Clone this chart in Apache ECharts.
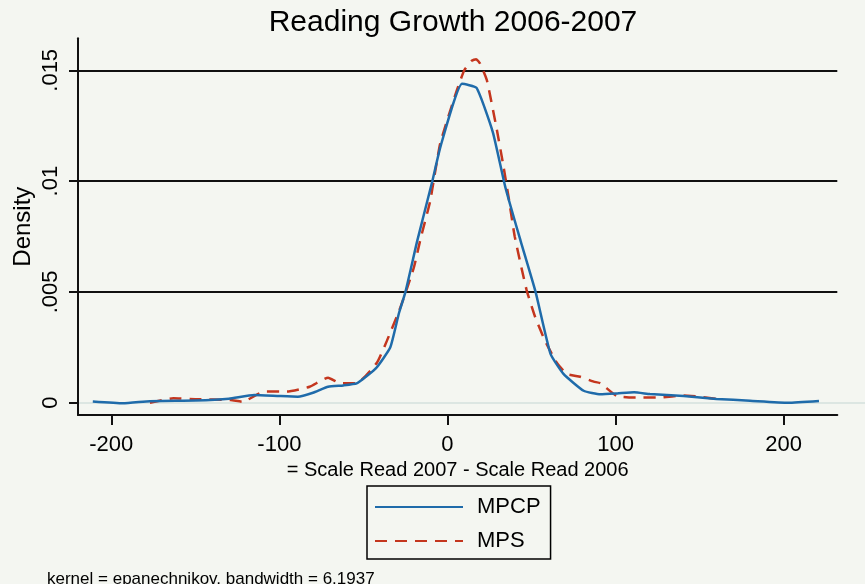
<!DOCTYPE html>
<html>
<head>
<meta charset="utf-8">
<script src="https://cdn.jsdelivr.net/npm/echarts@6/dist/echarts.min.js"></script>
<style>html,body{margin:0;padding:0;background:#F4F6F1;}#c{width:865px;height:584px;}</style>
</head>
<body>
<div id="c"></div>
<script>
// ---- data ----
const titleText = 'Reading Growth 2006-2007';
const xAxisTitle = '= Scale Read 2007 - Scale Read 2006';
const yAxisTitle = 'Density';
const noteText = 'kernel = epanechnikov, bandwidth = 6.1937';
const seriesNames = ['MPCP', 'MPS'];
const xTicks = [-200, -100, 0, 100, 200];
const yTicks = [0, 0.005, 0.01, 0.015];
const yTickLabels = ['0', '.005', '.01', '.015'];

const mpcpX = [-211, -193, -177, -150, -130, -115, -100, -89, -80, -71, -62, -54, -48, -42, -34, -29, -25, -18, -12, -9, -4, 8.7, 17.3, 27, 34.5, 43.5, 52.4, 61.3, 69, 81, 91, 101, 111, 120.5, 140.5, 160, 180, 202.7, 221];
const mpcpY = [0.00005, -0.00003, 0.00007, 0.0001, 0.00018, 0.00035, 0.0003, 0.00027, 0.00045, 0.00072, 0.00078, 0.00087, 0.0012, 0.0016, 0.0025, 0.004, 0.005, 0.0073, 0.0091, 0.01, 0.0116, 0.01439, 0.0142, 0.0122, 0.0097, 0.0073, 0.005, 0.0022, 0.0013, 0.00054, 0.00038, 0.00042, 0.00047, 0.00039, 0.0003, 0.00017, 0.00009, 0.0, 0.00008];

const mpsX = [-177, -163, -150, -129, -122, -109, -95.5, -82, -71, -64, -54, -42, -36, -28, -20, -16, -10.3, -4.3, 5.6, 10, 14.5, 17, 19.4, 23.4, 29.4, 33, 36.5, 40, 47, 52, 58, 65, 71, 79, 87, 91, 100.7, 110.6, 126.6, 140.5, 150, 162];
const mpsY = [0.0, 0.0002, 0.00016, 0.00012, 0.00004, 0.0005, 0.0005, 0.00072, 0.00113, 0.00088, 0.00088, 0.0018, 0.0028, 0.0043, 0.0061, 0.0074, 0.0091, 0.0117, 0.0141, 0.015, 0.01543, 0.0155, 0.0153, 0.01456, 0.0123, 0.0108, 0.0092, 0.0075, 0.0051, 0.0039, 0.0028, 0.0018, 0.0013, 0.00117, 0.00095, 0.00088, 0.0003, 0.00023, 0.00024, 0.00032, 0.00027, 0.00015];

// ---- chart ----
const FONT = 'Liberation Sans, Arial, sans-serif';
const chart = echarts.init(document.getElementById('c'), null, {renderer: 'canvas'});
const pairs = (xs, ys) => xs.map((x, i) => [x, ys[i]]);

chart.setOption({
  backgroundColor: '#F4F6F1',
  animation: false,
  textStyle: {fontFamily: FONT},
  title: [
    {text: titleText, left: 453, textAlign: 'center', top: 8, padding: 0,
     textStyle: {fontSize: 30, fontWeight: 'normal', color: '#000', fontFamily: FONT}},
    {text: noteText, left: 47, top: 571, padding: 0,
     textStyle: {fontSize: 17, fontWeight: 'normal', color: '#000', fontFamily: FONT}}
  ],
  legend: {
    orient: 'vertical', left: 367, top: 486,
    data: seriesNames,
    itemWidth: 88, itemHeight: 14, itemGap: 12,
    padding: [10, 10, 7, 7],
    borderColor: '#000', borderWidth: 1.5, borderRadius: 0,
    backgroundColor: '#F4F6F1',
    itemStyle: {opacity: 0},
    textStyle: {fontSize: 22, color: '#000', fontFamily: FONT, padding: [0, 0, 0, 9], lineHeight: 22}
  },
  grid: [
    {left: 78, right: 27.7, top: 38.3, bottom: 169},
    {left: 78, right: 27.7, top: 70.3, bottom: 181.3},
    {left: 78, right: 0, top: 302.7, bottom: 181.3}
  ],
  xAxis: [
    {gridIndex: 0, type: 'value', min: -219.8, max: 231.9,
     axisLine: {show: true, onZero: false, lineStyle: {color: '#111', width: 2}},
     axisTick: {show: true, customValues: xTicks, length: 10, lineStyle: {color: '#111', width: 2}},
     axisLabel: {show: true, customValues: xTicks, fontSize: 22, color: '#000', margin: 19, fontFamily: FONT},
     splitLine: {show: false},
     name: xAxisTitle, nameLocation: 'middle', nameGap: 45,
     nameTextStyle: {fontSize: 20, color: '#000', fontFamily: FONT}},
    {gridIndex: 1, type: 'value', min: 0, max: 1, show: false},
    {gridIndex: 2, type: 'value', min: 0, max: 1, show: false}
  ],
  yAxis: [
    {gridIndex: 0, type: 'value', min: -0.000555, max: 0.01644,
     axisLine: {show: true, onZero: false, lineStyle: {color: '#111', width: 2}},
     axisTick: {show: false}, axisLabel: {show: false}, splitLine: {show: false},
     name: yAxisTitle, nameLocation: 'middle', nameGap: 43, nameRotate: 90,
     nameTextStyle: {fontSize: 24, color: '#000', fontFamily: FONT}},
    {gridIndex: 1, type: 'value', min: 0, max: 0.015, interval: 0.005,
     axisLine: {show: false, onZero: false},
     axisTick: {show: true, length: 9, lineStyle: {color: '#111', width: 2}},
     axisLabel: {show: true, rotate: 90, fontSize: 22, color: '#000', margin: 16, fontFamily: FONT,
       formatter: (v) => { const i = yTicks.findIndex(t => Math.abs(t - v) < 1e-9); return i >= 0 ? yTickLabels[i] : ''; }},
     splitLine: {show: true, showMinLine: false, lineStyle: {color: '#111', width: 2}}},
    {gridIndex: 2, type: 'value', min: 0, max: 1, interval: 1,
     axisLine: {show: false, onZero: false}, axisTick: {show: false}, axisLabel: {show: false},
     splitLine: {show: true, showMaxLine: false, lineStyle: {color: '#DCE6E2', width: 2}}}
  ],
  series: [
    {name: seriesNames[0], type: 'line', xAxisIndex: 0, yAxisIndex: 0, data: pairs(mpcpX, mpcpY),
     symbol: 'none', smooth: 0.15, z: 3,
     lineStyle: {color: '#1F6BAA', width: 2.5}, itemStyle: {color: '#1F6BAA'}},
    {name: seriesNames[1], type: 'line', xAxisIndex: 0, yAxisIndex: 0, data: pairs(mpsX, mpsY),
     symbol: 'none', smooth: 0.15, z: 2,
     lineStyle: {color: '#C4361E', width: 2.5, type: [12, 8]}, itemStyle: {color: '#C4361E'}}
  ]
});
</script>
</body>
</html>
